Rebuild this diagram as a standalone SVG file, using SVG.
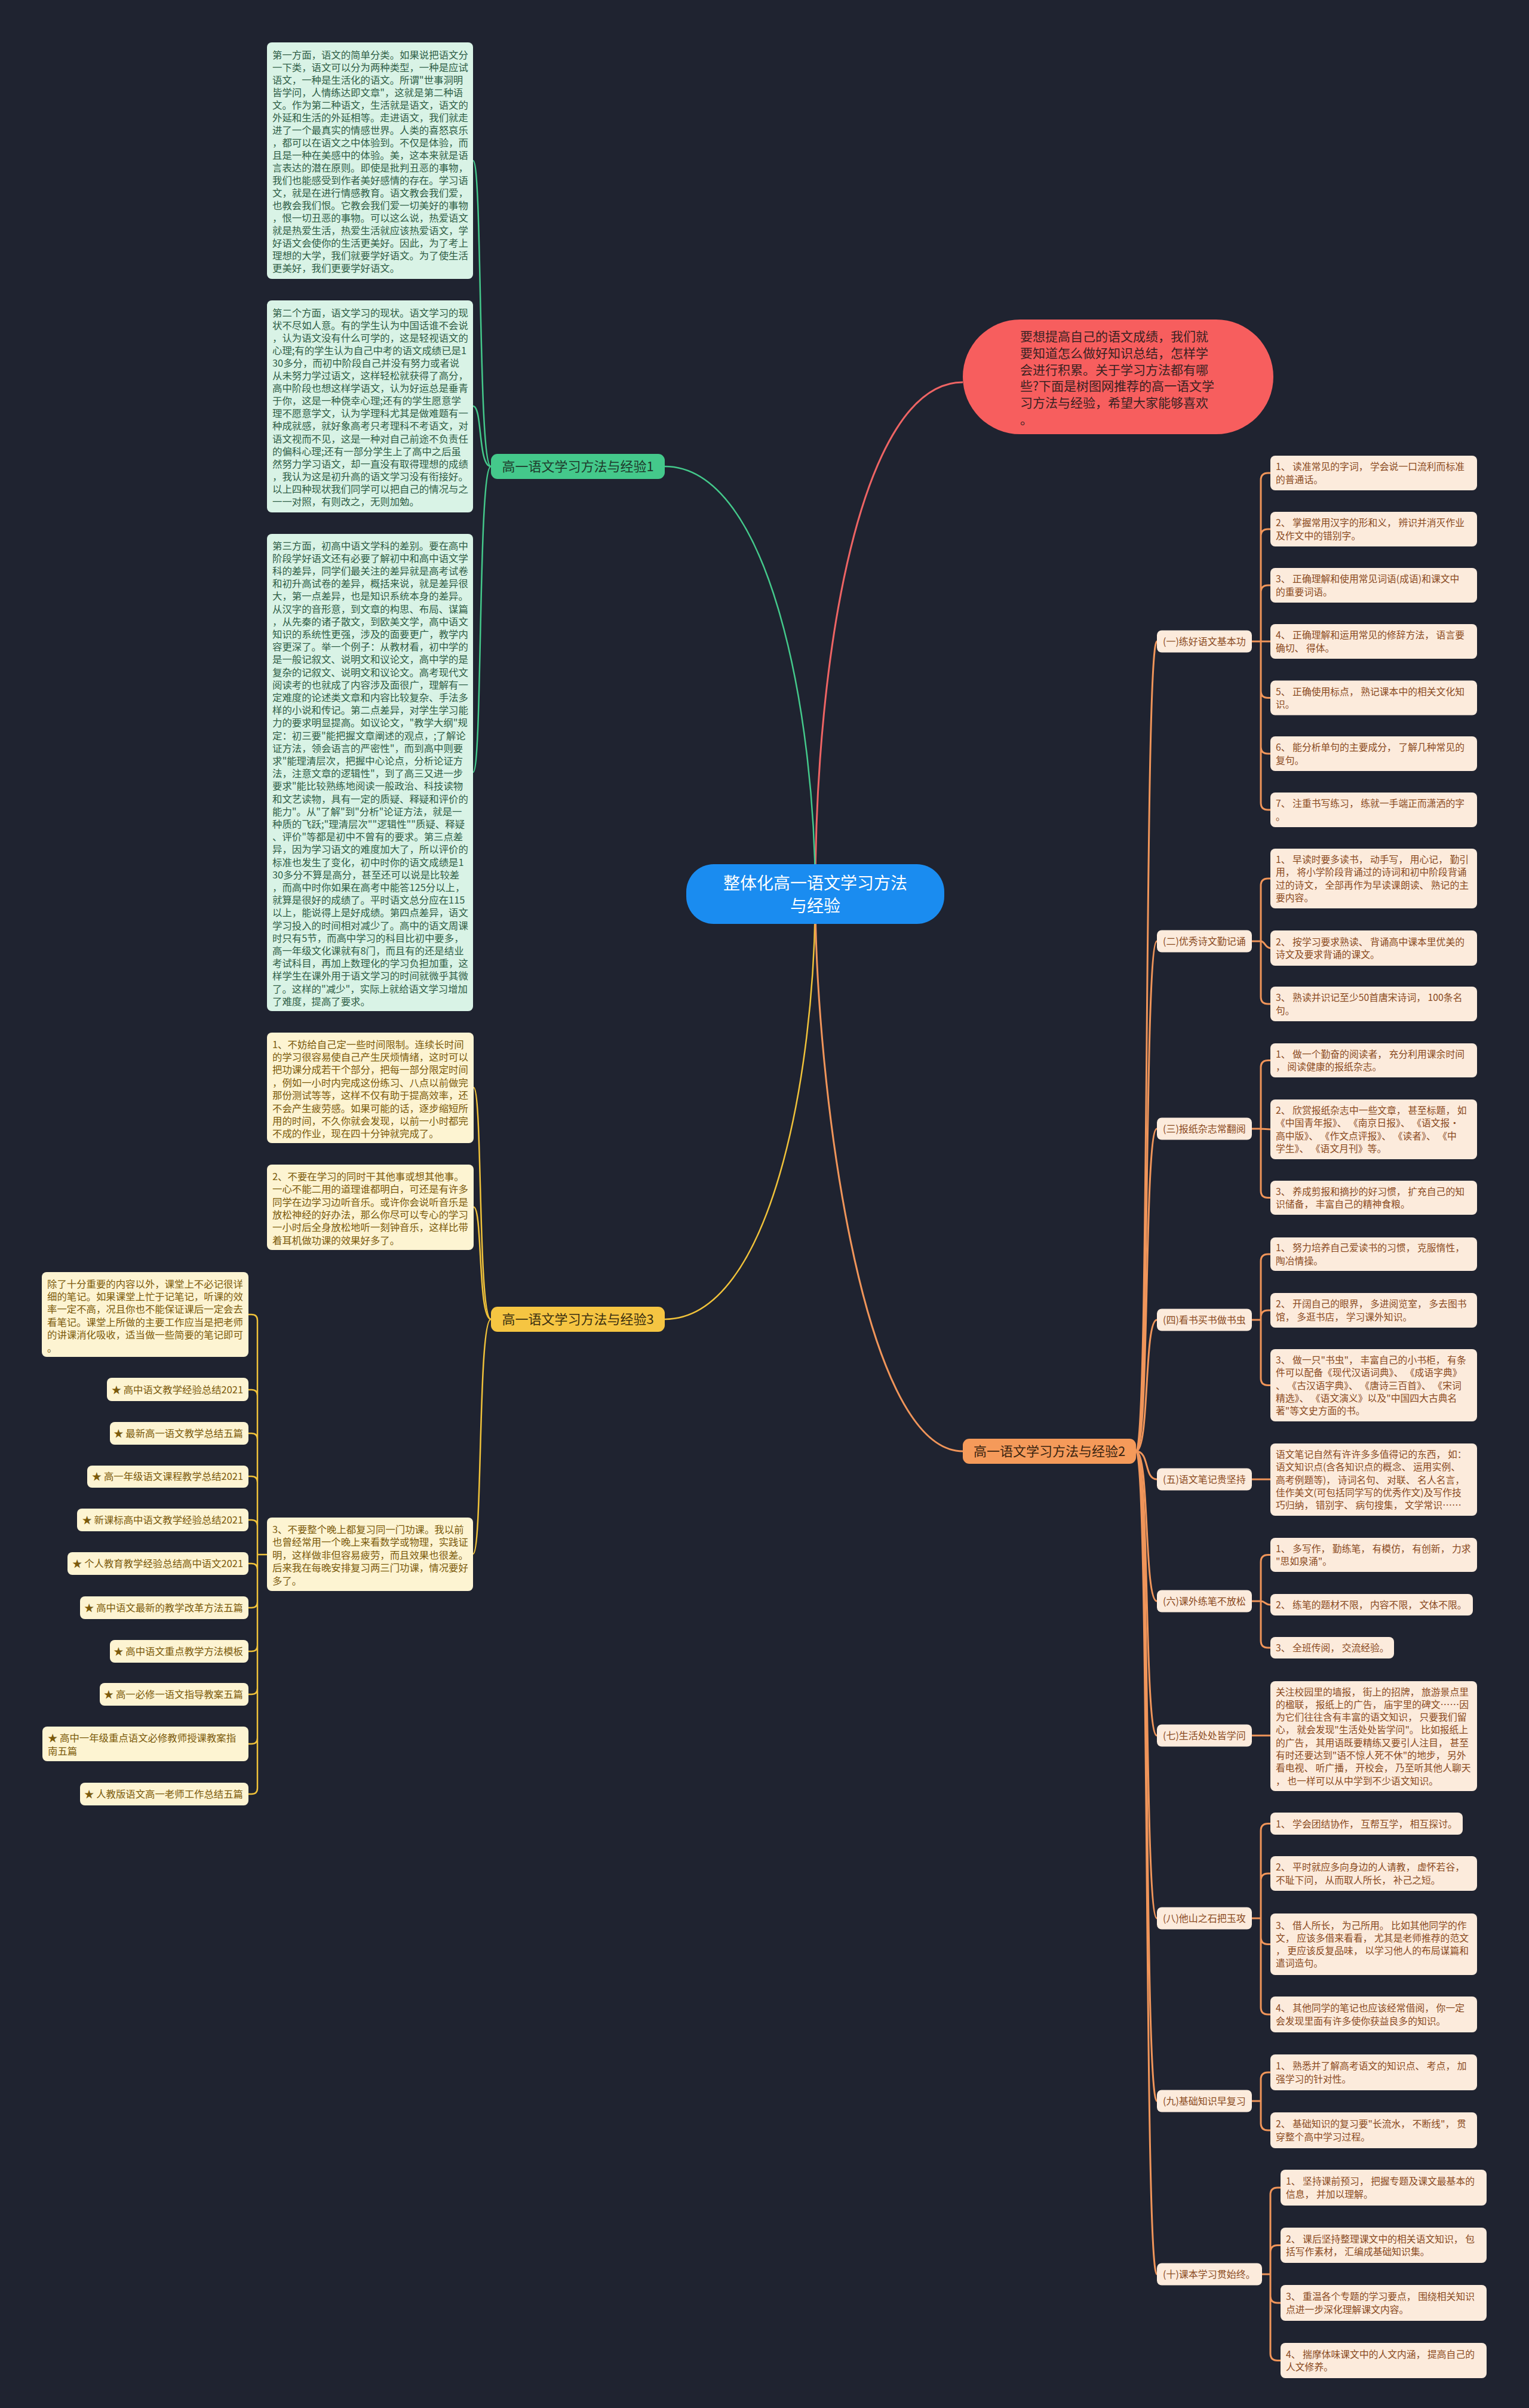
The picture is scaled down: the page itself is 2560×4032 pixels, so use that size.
<svg xmlns="http://www.w3.org/2000/svg" width="2560" height="4032" viewBox="0 0 2560 4032">
<style>
text{font-family:"Noto Sans CJK SC","Noto Sans",sans-serif}
.g{fill:#d9f3e6}.gt{font-size:16.4px;fill:#2f5e46}
.y{fill:#fdf4d2}.yt{font-size:16.4px;fill:#7b5a0b}
.o{fill:#fcebdc}.ot{font-size:15.8px;fill:#8a4a1e}.ol{font-size:16px;fill:#8a4a1e}
.cg{fill:none;stroke:#44c98b;stroke-width:2.5}
.cy{fill:none;stroke:#f0c23a;stroke-width:2.5}
.co{fill:none;stroke:#f0955a;stroke-width:3}
.cr{fill:none;stroke:#ee6464;stroke-width:3}
</style>
<rect width="2560" height="4032" fill="#1f2330"/>
<g id="connectors">
<path class="cr" d="M1612,640 C1440,640 1365,1100 1365,1497"/>
<path class="cg" d="M1113,781 C1290,781 1365,1200 1365,1497"/>
<path class="cy" d="M1113,2209 C1290,2209 1365,1800 1365,1497"/>
<path class="co" d="M1612,2430 C1440,2430 1365,1800 1365,1497"/>
<path class="cg" d="M822,781 C800,781 808,269 792,269"/>
<path class="cg" d="M822,781 C800,781 808,680 792,680"/>
<path class="cg" d="M822,781 C800,781 808,1293 792,1293"/>
<path class="cy" d="M822,2209 C800,2209 808,1821 793,1821"/>
<path class="cy" d="M822,2209 C800,2209 808,2021 793,2021"/>
<path class="cy" d="M822,2209 C800,2209 808,2602 792,2602"/>
<path class="cy" d="M447,2603 H431 M431,2603 V2211 Q431,2201 421,2201 H416 M431,2603 V2337 Q431,2327 421,2327 H416 M431,2603 V2410 Q431,2400 421,2400 H416 M431,2603 V2482 Q431,2472 421,2472 H416 M431,2603 V2555 Q431,2545 421,2545 H416 M431,2603 V2628 Q431,2618 421,2618 H416 M431,2603 V2682 Q431,2692 421,2692 H416 M431,2603 V2755 Q431,2765 421,2765 H416 M431,2603 V2827 Q431,2837 421,2837 H416 M431,2603 V2910 Q431,2920 421,2920 H416 M431,2603 V2994 Q431,3004 421,3004 H416"/>
<path class="co" d="M1902,2430 C1925,2430 1915,1074 1937,1074"/>
<path class="co" d="M1902,2430 C1925,2430 1915,1576 1937,1576"/>
<path class="co" d="M1902,2430 C1925,2430 1915,1890 1937,1890"/>
<path class="co" d="M1902,2430 C1925,2430 1915,2210 1937,2210"/>
<path class="co" d="M1902,2430 C1925,2430 1915,2477 1937,2477"/>
<path class="co" d="M1902,2430 C1925,2430 1915,2681 1937,2681"/>
<path class="co" d="M1902,2430 C1925,2430 1915,2906 1937,2906"/>
<path class="co" d="M1902,2430 C1925,2430 1915,3212 1937,3212"/>
<path class="co" d="M1902,2430 C1925,2430 1915,3518 1937,3518"/>
<path class="co" d="M1902,2430 C1925,2430 1915,3808 1937,3808"/>
<path class="co" d="M2096,1074 H2111 V804 Q2111,792 2123,792 H2127 M2111,1074 V898 Q2111,886 2123,886 H2127 M2111,1074 V992 Q2111,980 2123,980 H2127 M2111,1074 H2127 M2111,1074 V1156.5 Q2111,1168.5 2123,1168.5 H2127 M2111,1074 V1250 Q2111,1262 2123,1262 H2127 M2111,1074 V1344 Q2111,1356 2123,1356 H2127"/>
<path class="co" d="M2096,1576 H2111 V1483 Q2111,1471 2123,1471 H2127 M2111,1576 C2118,1576 2118,1587.5 2127,1587.5 M2111,1576 V1669 Q2111,1681 2123,1681 H2127"/>
<path class="co" d="M2096,1890 H2111 V1787.5 Q2111,1775.5 2123,1775.5 H2127 M2111,1890 L2127,1891 M2111,1890 V1993.5 Q2111,2005.5 2123,2005.5 H2127"/>
<path class="co" d="M2096,2210 H2111 V2112 Q2111,2100 2123,2100 H2127 M2111,2210 V2206 Q2111,2194 2123,2194 H2127 M2111,2210 V2307.5 Q2111,2319.5 2123,2319.5 H2127"/>
<path class="co" d="M2096,2477 H2127"/>
<path class="co" d="M2096,2681 H2111 V2615.5 Q2111,2603.5 2123,2603.5 H2127 M2111,2681 C2118,2681 2118,2687 2127,2687 M2111,2681 V2747 Q2111,2759 2123,2759 H2127"/>
<path class="co" d="M2096,2906 H2127"/>
<path class="co" d="M2096,3212 H2111 V3065.5 Q2111,3053.5 2123,3053.5 H2127 M2111,3212 V3149 Q2111,3137 2123,3137 H2127 M2111,3212 V3243.5 Q2111,3255.5 2123,3255.5 H2127 M2111,3212 V3361 Q2111,3373 2123,3373 H2127"/>
<path class="co" d="M2096,3518 H2111 V3482 Q2111,3470 2123,3470 H2127 M2111,3518 V3555 Q2111,3567 2123,3567 H2127"/>
<path class="co" d="M2113,3808 H2127 V3675 Q2127,3663 2139,3663 H2144 M2127,3808 V3771.5 Q2127,3759.5 2139,3759.5 H2144 M2127,3808 V3844 Q2127,3856 2139,3856 H2144 M2127,3808 V3940.5 Q2127,3952.5 2139,3952.5 H2144"/>
</g>
<g id="center">
<rect x="1149" y="1447" width="432" height="100" rx="46" fill="#1a8cf0"/>
<text x="1365" y="1489" font-size="28" fill="#ffffff" text-anchor="middle">整体化高一语文学习方法<tspan x="1365" dy="38">与经验</tspan></text>
</g>
<g id="intro">
<rect x="1612" y="535" width="520" height="192" rx="96" fill="#f75e5e"/>
<text x="1708" y="571.3" font-size="21" fill="#3a2222"><tspan x="1708">要想提高自己的语文成绩，我们就</tspan><tspan x="1708" dy="27.7">要知道怎么做好知识总结，怎样学</tspan><tspan x="1708" dy="27.7">会进行积累。关于学习方法都有哪</tspan><tspan x="1708" dy="27.7">些?下面是树图网推荐的高一语文学</tspan><tspan x="1708" dy="27.7">习方法与经验，希望大家能够喜欢</tspan><tspan x="1708" dy="27.7">。</tspan></text>
</g>
<g id="branch1">
<rect x="822" y="760" width="291" height="42" rx="11" fill="#44c98b"/>
<text x="967.5" y="789" font-size="22" fill="#1e3a2b" text-anchor="middle">高一语文学习方法与经验1</text>
</g>
<g id="b1-1">
<rect class="g" x="447" y="71" width="345" height="396" rx="8"/>
<text class="gt" x="456" y="97.9"><tspan x="456">第一方面，语文的简单分类。如果说把语文分</tspan><tspan x="456" dy="21">一下类，语文可以分为两种类型，一种是应试</tspan><tspan x="456" dy="21">语文，一种是生活化的语文。所谓"世事洞明</tspan><tspan x="456" dy="21">皆学问，人情练达即文章"，这就是第二种语</tspan><tspan x="456" dy="21">文。作为第二种语文，生活就是语文，语文的</tspan><tspan x="456" dy="21">外延和生活的外延相等。走进语文，我们就走</tspan><tspan x="456" dy="21">进了一个最真实的情感世界。人类的喜怒哀乐</tspan><tspan x="456" dy="21">，都可以在语文之中体验到。不仅是体验，而</tspan><tspan x="456" dy="21">且是一种在美感中的体验。美，这本来就是语</tspan><tspan x="456" dy="21">言表达的潜在原则。即使是批判丑恶的事物，</tspan><tspan x="456" dy="21">我们也能感受到作者美好感情的存在。学习语</tspan><tspan x="456" dy="21">文，就是在进行情感教育。语文教会我们爱，</tspan><tspan x="456" dy="21">也教会我们恨。它教会我们爱一切美好的事物</tspan><tspan x="456" dy="21">，恨一切丑恶的事物。可以这么说，热爱语文</tspan><tspan x="456" dy="21">就是热爱生活，热爱生活就应该热爱语文，学</tspan><tspan x="456" dy="21">好语文会使你的生活更美好。因此，为了考上</tspan><tspan x="456" dy="21">理想的大学，我们就要学好语文。为了使生活</tspan><tspan x="456" dy="21">更美好，我们更要学好语文。</tspan></text>
</g>
<g id="b1-2">
<rect class="g" x="447" y="503" width="345" height="355" rx="8"/>
<text class="gt" x="456" y="529.5"><tspan x="456">第二个方面，语文学习的现状。语文学习的现</tspan><tspan x="456" dy="21.1">状不尽如人意。有的学生认为中国话谁不会说</tspan><tspan x="456" dy="21.1">，认为语文没有什么可学的，这是轻视语文的</tspan><tspan x="456" dy="21.1">心理;有的学生认为自己中考的语文成绩已是1</tspan><tspan x="456" dy="21.1">30多分，而初中阶段自己并没有努力或者说</tspan><tspan x="456" dy="21.1">从未努力学过语文，这样轻松就获得了高分，</tspan><tspan x="456" dy="21.1">高中阶段也想这样学语文，认为好运总是垂青</tspan><tspan x="456" dy="21.1">于你，这是一种侥幸心理;还有的学生愿意学</tspan><tspan x="456" dy="21.1">理不愿意学文，认为学理科尤其是做难题有一</tspan><tspan x="456" dy="21.1">种成就感，就好象高考只考理科不考语文，对</tspan><tspan x="456" dy="21.1">语文视而不见，这是一种对自己前途不负责任</tspan><tspan x="456" dy="21.1">的偏科心理;还有一部分学生上了高中之后虽</tspan><tspan x="456" dy="21.1">然努力学习语文，却一直没有取得理想的成绩</tspan><tspan x="456" dy="21.1">，我认为这是初升高的语文学习没有衔接好。</tspan><tspan x="456" dy="21.1">以上四种现状我们同学可以把自己的情况与之</tspan><tspan x="456" dy="21.1">一一对照，有则改之，无则加勉。</tspan></text>
</g>
<g id="b1-3">
<rect class="g" x="447" y="894" width="345" height="799" rx="8"/>
<text class="gt" x="456" y="919.5"><tspan x="456">第三方面，初高中语文学科的差别。要在高中</tspan><tspan x="456" dy="21.2">阶段学好语文还有必要了解初中和高中语文学</tspan><tspan x="456" dy="21.2">科的差异，同学们最关注的差异就是高考试卷</tspan><tspan x="456" dy="21.2">和初升高试卷的差异，概括来说，就是差异很</tspan><tspan x="456" dy="21.2">大，第一点差异，也是知识系统本身的差异。</tspan><tspan x="456" dy="21.2">从汉字的音形意，到文章的构思、布局、谋篇</tspan><tspan x="456" dy="21.2">，从先秦的诸子散文，到欧美文学，高中语文</tspan><tspan x="456" dy="21.2">知识的系统性更强，涉及的面要更广，教学内</tspan><tspan x="456" dy="21.2">容更深了。举一个例子：从教材看，初中学的</tspan><tspan x="456" dy="21.2">是一般记叙文、说明文和议论文，高中学的是</tspan><tspan x="456" dy="21.2">复杂的记叙文、说明文和议论文。高考现代文</tspan><tspan x="456" dy="21.2">阅读考的也就成了内容涉及面很广，理解有一</tspan><tspan x="456" dy="21.2">定难度的论述类文章和内容比较复杂、手法多</tspan><tspan x="456" dy="21.2">样的小说和传记。第二点差异，对学生学习能</tspan><tspan x="456" dy="21.2">力的要求明显提高。如议论文，"教学大纲"规</tspan><tspan x="456" dy="21.2">定：初三要"能把握文章阐述的观点，;了解论</tspan><tspan x="456" dy="21.2">证方法，领会语言的严密性"，而到高中则要</tspan><tspan x="456" dy="21.2">求"能理清层次，把握中心论点，分析论证方</tspan><tspan x="456" dy="21.2">法，注意文章的逻辑性"，到了高三又进一步</tspan><tspan x="456" dy="21.2">要求"能比较熟练地阅读一般政治、科技读物</tspan><tspan x="456" dy="21.2">和文艺读物，具有一定的质疑、释疑和评价的</tspan><tspan x="456" dy="21.2">能力"。从"了解"到"分析"论证方法，就是一</tspan><tspan x="456" dy="21.2">种质的飞跃;"理清层次""逻辑性""质疑、释疑</tspan><tspan x="456" dy="21.2">、评价"等都是初中不曾有的要求。第三点差</tspan><tspan x="456" dy="21.2">异，因为学习语文的难度加大了，所以评价的</tspan><tspan x="456" dy="21.2">标准也发生了变化，初中时你的语文成绩是1</tspan><tspan x="456" dy="21.2">30多分不算是高分，甚至还可以说是比较差</tspan><tspan x="456" dy="21.2">，而高中时你如果在高考中能答125分以上，</tspan><tspan x="456" dy="21.2">就算是很好的成绩了。平时语文总分应在115</tspan><tspan x="456" dy="21.2">以上，能说得上是好成绩。第四点差异，语文</tspan><tspan x="456" dy="21.2">学习投入的时间相对减少了。高中的语文周课</tspan><tspan x="456" dy="21.2">时只有5节，而高中学习的科目比初中要多，</tspan><tspan x="456" dy="21.2">高一年级文化课就有8门，而且有的还是结业</tspan><tspan x="456" dy="21.2">考试科目，再加上数理化的学习负担加重，这</tspan><tspan x="456" dy="21.2">样学生在课外用于语文学习的时间就微乎其微</tspan><tspan x="456" dy="21.2">了。这样的"减少"，实际上就给语文学习增加</tspan><tspan x="456" dy="21.2">了难度，提高了要求。</tspan></text>
</g>
<g id="branch3">
<rect x="822" y="2188" width="291" height="42" rx="11" fill="#f5c542"/>
<text x="967.5" y="2217" font-size="22" fill="#3a2f10" text-anchor="middle">高一语文学习方法与经验3</text>
</g>
<g id="b3-1">
<rect class="y" x="447" y="1729" width="346" height="185" rx="8"/>
<text class="yt" x="456" y="1754.5"><tspan x="456">1、不妨给自己定一些时间限制。连续长时间</tspan><tspan x="456" dy="21.4">的学习很容易使自己产生厌烦情绪，这时可以</tspan><tspan x="456" dy="21.4">把功课分成若干个部分，把每一部分限定时间</tspan><tspan x="456" dy="21.4">，例如一小时内完成这份练习、八点以前做完</tspan><tspan x="456" dy="21.4">那份测试等等，这样不仅有助于提高效率，还</tspan><tspan x="456" dy="21.4">不会产生疲劳感。如果可能的话，逐步缩短所</tspan><tspan x="456" dy="21.4">用的时间，不久你就会发现，以前一小时都完</tspan><tspan x="456" dy="21.4">不成的作业，现在四十分钟就完成了。</tspan></text>
</g>
<g id="b3-2">
<rect class="y" x="447" y="1950" width="346" height="143" rx="8"/>
<text class="yt" x="456" y="1976"><tspan x="456">2、不要在学习的同时干其他事或想其他事。</tspan><tspan x="456" dy="21.3">一心不能二用的道理谁都明白，可还是有许多</tspan><tspan x="456" dy="21.3">同学在边学习边听音乐。或许你会说听音乐是</tspan><tspan x="456" dy="21.3">放松神经的好办法，那么你尽可以专心的学习</tspan><tspan x="456" dy="21.3">一小时后全身放松地听一刻钟音乐，这样比带</tspan><tspan x="456" dy="21.3">着耳机做功课的效果好多了。</tspan></text>
</g>
<g id="b3-3">
<rect class="y" x="447" y="2541" width="345" height="123" rx="8"/>
<text class="yt" x="456" y="2567"><tspan x="456">3、不要整个晚上都复习同一门功课。我以前</tspan><tspan x="456" dy="21.4">也曾经常用一个晚上来看数学或物理，实践证</tspan><tspan x="456" dy="21.4">明，这样做非但容易疲劳，而且效果也很差。</tspan><tspan x="456" dy="21.4">后来我在每晚安排复习两三门功课，情况要好</tspan><tspan x="456" dy="21.4">多了。</tspan></text>
</g>
<g id="b3-3-0">
<rect class="y" x="70" y="2130" width="346" height="142" rx="8"/>
<text class="yt" x="79" y="2155.5"><tspan x="79">除了十分重要的内容以外，课堂上不必记很详</tspan><tspan x="79" dy="21.4">细的笔记。如果课堂上忙于记笔记，听课的效</tspan><tspan x="79" dy="21.4">率一定不高，况且你也不能保证课后一定会去</tspan><tspan x="79" dy="21.4">看笔记。课堂上所做的主要工作应当是把老师</tspan><tspan x="79" dy="21.4">的讲课消化吸收，适当做一些简要的笔记即可</tspan><tspan x="79" dy="21.4">。</tspan></text>
</g>
<g id="b3-3-1"><rect class="y" x="179" y="2307" width="237" height="39" rx="8"/><text class="yt" x="407" y="2333" text-anchor="end">★ 高中语文教学经验总结2021</text></g>
<g id="b3-3-2"><rect class="y" x="184" y="2381" width="232" height="38" rx="8"/><text class="yt" x="407" y="2406" text-anchor="end">★ 最新高一语文教学总结五篇</text></g>
<g id="b3-3-3"><rect class="y" x="146" y="2454" width="270" height="37" rx="8"/><text class="yt" x="407" y="2478" text-anchor="end">★ 高一年级语文课程教学总结2021</text></g>
<g id="b3-3-4"><rect class="y" x="129" y="2526" width="287" height="38" rx="8"/><text class="yt" x="407" y="2551" text-anchor="end">★ 新课标高中语文教学经验总结2021</text></g>
<g id="b3-3-5"><rect class="y" x="113" y="2599" width="303" height="38" rx="8"/><text class="yt" x="407" y="2624" text-anchor="end">★ 个人教育教学经验总结高中语文2021</text></g>
<g id="b3-3-6"><rect class="y" x="134" y="2673" width="282" height="38" rx="8"/><text class="yt" x="407" y="2698" text-anchor="end">★ 高中语文最新的教学改革方法五篇</text></g>
<g id="b3-3-7"><rect class="y" x="184" y="2746" width="232" height="38" rx="8"/><text class="yt" x="407" y="2771" text-anchor="end">★ 高中语文重点教学方法模板</text></g>
<g id="b3-3-8"><rect class="y" x="167" y="2818" width="249" height="38" rx="8"/><text class="yt" x="407" y="2843" text-anchor="end">★ 高一必修一语文指导教案五篇</text></g>
<g id="b3-3-9"><rect class="y" x="71" y="2891" width="345" height="58" rx="8"/><text class="yt" x="80" y="2916"><tspan x="80">★ 高中一年级重点语文必修教师授课教案指</tspan><tspan x="80" dy="21.7">南五篇</tspan></text></g>
<g id="b3-3-10"><rect class="y" x="134" y="2985" width="282" height="38" rx="8"/><text class="yt" x="407" y="3010" text-anchor="end">★ 人教版语文高一老师工作总结五篇</text></g>
<g id="branch2">
<rect x="1612" y="2409" width="290" height="42" rx="11" fill="#f59a5a"/>
<text x="1757" y="2438" font-size="22" fill="#3a2410" text-anchor="middle">高一语文学习方法与经验2</text>
</g>
<g id="s1">
<rect class="o" x="1937" y="1055.5" width="159" height="37" rx="8"/><text class="ol" x="1947" y="1080">(一)练好语文基本功</text>
<rect class="o" x="2127" y="763" width="346" height="58" rx="8"/><text class="ot" x="2136" y="787.3">1、 读准常见的字词， 学会说一口流利而标准<tspan x="2136" dy="21.3">的普通话。</tspan></text>
<rect class="o" x="2127" y="857" width="346" height="58" rx="8"/><text class="ot" x="2136" y="881.3">2、 掌握常用汉字的形和义， 辨识并消灭作业<tspan x="2136" dy="21.3">及作文中的错别字。</tspan></text>
<rect class="o" x="2127" y="951" width="346" height="58" rx="8"/><text class="ot" x="2136" y="975.3">3、 正确理解和使用常见词语(成语)和课文中<tspan x="2136" dy="21.3">的重要词语。</tspan></text>
<rect class="o" x="2127" y="1045" width="346" height="58" rx="8"/><text class="ot" x="2136" y="1069.3">4、 正确理解和运用常见的修辞方法， 语言要<tspan x="2136" dy="21.3">确切、 得体。</tspan></text>
<rect class="o" x="2127" y="1139.5" width="346" height="58" rx="8"/><text class="ot" x="2136" y="1163.8">5、 正确使用标点， 熟记课本中的相关文化知<tspan x="2136" dy="21.3">识。</tspan></text>
<rect class="o" x="2127" y="1233" width="346" height="58" rx="8"/><text class="ot" x="2136" y="1257.3">6、 能分析单句的主要成分， 了解几种常见的<tspan x="2136" dy="21.3">复句。</tspan></text>
<rect class="o" x="2127" y="1327" width="346" height="58" rx="8"/><text class="ot" x="2136" y="1351.3">7、 注重书写练习， 练就一手端正而潇洒的字<tspan x="2136" dy="21.3">。</tspan></text>
</g>
<g id="s2">
<rect class="o" x="1937" y="1557.5" width="159" height="37" rx="8"/><text class="ol" x="1947" y="1582">(二)优秀诗文勤记诵</text>
<rect class="o" x="2127" y="1421" width="346" height="100" rx="8"/><text class="ot" x="2136" y="1445">1、 早读时要多读书， 动手写， 用心记， 勤引<tspan x="2136" dy="21.3">用， 将小学阶段背诵过的诗词和初中阶段背诵</tspan><tspan x="2136" dy="21.3">过的诗文， 全部再作为早读课朗读、 熟记的主</tspan><tspan x="2136" dy="21.3">要内容。</tspan></text>
<rect class="o" x="2127" y="1558" width="346" height="59" rx="8"/><text class="ot" x="2136" y="1582.8">2、 按学习要求熟读、 背诵高中课本里优美的<tspan x="2136" dy="21.3">诗文及要求背诵的课文。</tspan></text>
<rect class="o" x="2127" y="1652" width="346" height="58" rx="8"/><text class="ot" x="2136" y="1676.3">3、 熟读并识记至少50首唐宋诗词， 100条名<tspan x="2136" dy="21.3">句。</tspan></text>
</g>
<g id="s3">
<rect class="o" x="1937" y="1871.5" width="159" height="37" rx="8"/><text class="ol" x="1947" y="1896">(三)报纸杂志常翻阅</text>
<rect class="o" x="2127" y="1747" width="346" height="57" rx="8"/><text class="ot" x="2136" y="1770.8">1、 做一个勤奋的阅读者， 充分利用课余时间<tspan x="2136" dy="21.3">， 阅读健康的报纸杂志。</tspan></text>
<rect class="o" x="2127" y="1841" width="346" height="100" rx="8"/><text class="ot" x="2136" y="1865">2、 欣赏报纸杂志中一些文章， 甚至标题， 如<tspan x="2136" dy="21.3">《中国青年报》、 《南京日报》、 《语文报·</tspan><tspan x="2136" dy="21.3">高中版》、 《作文点评报》、 《读者》、 《中</tspan><tspan x="2136" dy="21.3">学生》、 《语文月刊》等。</tspan></text>
<rect class="o" x="2127" y="1977" width="346" height="57" rx="8"/><text class="ot" x="2136" y="2000.8">3、 养成剪报和摘抄的好习惯， 扩充自己的知<tspan x="2136" dy="21.3">识储备， 丰富自己的精神食粮。</tspan></text>
</g>
<g id="s4">
<rect class="o" x="1937" y="2191.5" width="159" height="37" rx="8"/><text class="ol" x="1947" y="2216">(四)看书买书做书虫</text>
<rect class="o" x="2127" y="2072" width="346" height="56" rx="8"/><text class="ot" x="2136" y="2095.3">1、 努力培养自己爱读书的习惯， 克服惰性，<tspan x="2136" dy="21.3">陶冶情操。</tspan></text>
<rect class="o" x="2127" y="2165" width="346" height="58" rx="8"/><text class="ot" x="2136" y="2189.3">2、 开阔自己的眼界， 多进阅览室， 多去图书<tspan x="2136" dy="21.3">馆， 多逛书店， 学习课外知识。</tspan></text>
<rect class="o" x="2127" y="2259" width="346" height="121" rx="8"/><text class="ot" x="2136" y="2282.9">3、 做一只"书虫"， 丰富自己的小书柜， 有条<tspan x="2136" dy="21.3">件可以配备《现代汉语词典》、 《成语字典》</tspan><tspan x="2136" dy="21.3">、 《古汉语字典》、 《唐诗三百首》、 《宋词</tspan><tspan x="2136" dy="21.3">精选》、 《语文演义》以及"中国四大古典名</tspan><tspan x="2136" dy="21.3">著"等文史方面的书。</tspan></text>
</g>
<g id="s5">
<rect class="o" x="1937" y="2458.5" width="159" height="37" rx="8"/><text class="ol" x="1947" y="2483">(五)语文笔记贵坚持</text>
<rect class="o" x="2127" y="2417" width="346" height="121" rx="8"/><text class="ot" x="2136" y="2440.9">语文笔记自然有许许多多值得记的东西， 如：<tspan x="2136" dy="21.3">语文知识点(含各知识点的概念、 运用实例、</tspan><tspan x="2136" dy="21.3">高考例题等)， 诗词名句、 对联、 名人名言，</tspan><tspan x="2136" dy="21.3">佳作美文(可包括同学写的优秀作文)及写作技</tspan><tspan x="2136" dy="21.3">巧归纳， 错别字、 病句搜集， 文学常识……</tspan></text>
</g>
<g id="s6">
<rect class="o" x="1937" y="2662.5" width="159" height="37" rx="8"/><text class="ol" x="1947" y="2687">(六)课外练笔不放松</text>
<rect class="o" x="2127" y="2575" width="346" height="57" rx="8"/><text class="ot" x="2136" y="2598.8">1、 多写作， 勤练笔， 有模仿， 有创新， 力求<tspan x="2136" dy="21.3">"思如泉涌"。</tspan></text>
<rect class="o" x="2127" y="2669" width="339" height="36" rx="8"/><text class="ot" x="2136" y="2693">2、 练笔的题材不限， 内容不限， 文体不限。</text>
<rect class="o" x="2127" y="2741" width="207" height="36" rx="8"/><text class="ot" x="2136" y="2765">3、 全班传阅， 交流经验。</text>
</g>
<g id="s7">
<rect class="o" x="1937" y="2887.5" width="159" height="37" rx="8"/><text class="ol" x="1947" y="2912">(七)生活处处皆学问</text>
<rect class="o" x="2127" y="2815" width="346" height="184" rx="8"/><text class="ot" x="2136" y="2838.5">关注校园里的墙报， 街上的招牌， 旅游景点里<tspan x="2136" dy="21.3">的楹联， 报纸上的广告， 庙宇里的碑文……因</tspan><tspan x="2136" dy="21.3">为它们往往含有丰富的语文知识， 只要我们留</tspan><tspan x="2136" dy="21.3">心， 就会发现"生活处处皆学问"。 比如报纸上</tspan><tspan x="2136" dy="21.3">的广告， 其用语既要精练又要引人注目， 甚至</tspan><tspan x="2136" dy="21.3">有时还要达到"语不惊人死不休"的地步， 另外</tspan><tspan x="2136" dy="21.3">看电视、 听广播， 开校会， 乃至听其他人聊天</tspan><tspan x="2136" dy="21.3">， 也一样可以从中学到不少语文知识。</tspan></text>
</g>
<g id="s8">
<rect class="o" x="1937" y="3193.5" width="159" height="37" rx="8"/><text class="ol" x="1947" y="3218">(八)他山之石把玉攻</text>
<rect class="o" x="2127" y="3035" width="322" height="37" rx="8"/><text class="ot" x="2136" y="3059.5">1、 学会团结协作， 互帮互学， 相互探讨。</text>
<rect class="o" x="2127" y="3108" width="346" height="58" rx="8"/><text class="ot" x="2136" y="3132.3">2、 平时就应多向身边的人请教， 虚怀若谷，<tspan x="2136" dy="21.3">不耻下问， 从而取人所长， 补己之短。</tspan></text>
<rect class="o" x="2127" y="3204" width="346" height="103" rx="8"/><text class="ot" x="2136" y="3229.5">3、 借人所长， 为己所用。 比如其他同学的作<tspan x="2136" dy="21.3">文， 应该多借来看看， 尤其是老师推荐的范文</tspan><tspan x="2136" dy="21.3">， 更应该反复品味， 以学习他人的布局谋篇和</tspan><tspan x="2136" dy="21.3">遣词造句。</tspan></text>
<rect class="o" x="2127" y="3343" width="346" height="60" rx="8"/><text class="ot" x="2136" y="3368.3">4、 其他同学的笔记也应该经常借阅， 你一定<tspan x="2136" dy="21.3">会发现里面有许多使你获益良多的知识。</tspan></text>
</g>
<g id="s9">
<rect class="o" x="1937" y="3499.5" width="159" height="37" rx="8"/><text class="ol" x="1947" y="3524">(九)基础知识早复习</text>
<rect class="o" x="2127" y="3440" width="346" height="60" rx="8"/><text class="ot" x="2136" y="3465.3">1、 熟悉并了解高考语文的知识点、 考点， 加<tspan x="2136" dy="21.3">强学习的针对性。</tspan></text>
<rect class="o" x="2127" y="3537" width="346" height="60" rx="8"/><text class="ot" x="2136" y="3562.3">2、 基础知识的复习要"长流水， 不断线"， 贯<tspan x="2136" dy="21.3">穿整个高中学习过程。</tspan></text>
</g>
<g id="s10">
<rect class="o" x="1937" y="3789.5" width="176" height="37" rx="8"/><text class="ol" x="1947" y="3814">(十)课本学习贯始终。</text>
<rect class="o" x="2144" y="3633" width="345" height="60" rx="8"/><text class="ot" x="2153" y="3658.3">1、 坚持课前预习， 把握专题及课文最基本的<tspan x="2153" dy="21.3">信息， 并加以理解。</tspan></text>
<rect class="o" x="2144" y="3730" width="345" height="59" rx="8"/><text class="ot" x="2153" y="3754.8">2、 课后坚持整理课文中的相关语文知识， 包<tspan x="2153" dy="21.3">括写作素材， 汇编成基础知识集。</tspan></text>
<rect class="o" x="2144" y="3826" width="345" height="60" rx="8"/><text class="ot" x="2153" y="3851.3">3、 重温各个专题的学习要点， 围绕相关知识<tspan x="2153" dy="21.3">点进一步深化理解课文内容。</tspan></text>
<rect class="o" x="2144" y="3923" width="345" height="59" rx="8"/><text class="ot" x="2153" y="3947.8">4、 揣摩体味课文中的人文内涵， 提高自己的<tspan x="2153" dy="21.3">人文修养。</tspan></text>
</g>
</svg>
